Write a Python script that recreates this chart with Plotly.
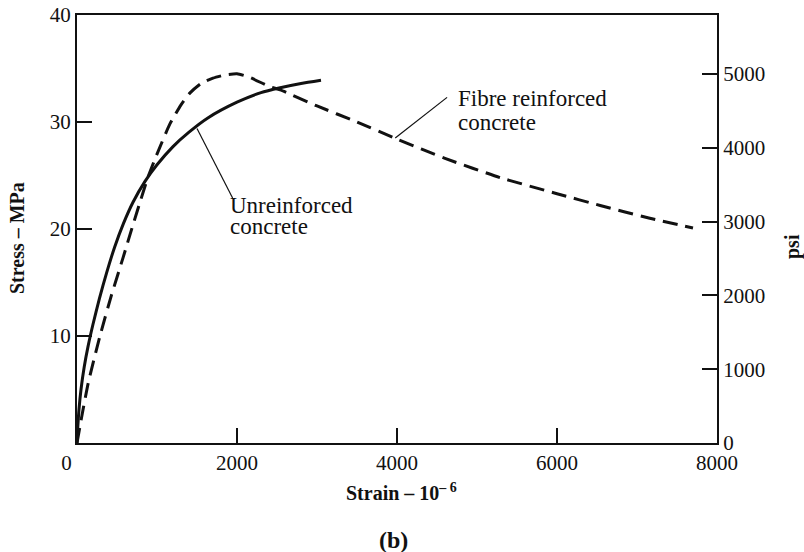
import plotly.graph_objects as go

# Unreinforced concrete (solid)
unreinf_strain = [0, 10, 25, 50, 90, 140, 200, 280, 370, 470, 580, 700, 850,
                  1000, 1200, 1400, 1640, 2000, 2300, 2540, 2800, 3050]
unreinf_stress = [0, 1.5, 3.15, 5.0, 7.1, 9.1, 11.1, 13.5, 15.9, 18.3, 20.5, 22.5, 24.45,
                  26.0, 27.7, 29.05, 30.4, 31.85, 32.75, 33.2, 33.6, 33.9]

# Fibre reinforced concrete (dashed)
fibre_strain = [0, 60, 140, 287, 430, 575, 700, 800, 890, 1000, 1160, 1300, 1410,
                1550, 1700, 1850, 2000, 2150, 2410, 2540, 3000, 3500, 4000, 4600,
                5290, 6000, 6540, 7160, 7700]
fibre_stress = [0, 2.5, 5.6, 10.0, 13.8, 17.3, 20.4, 22.8, 24.9, 27.0, 29.8, 31.6, 32.7,
                33.6, 34.1, 34.4, 34.5, 34.2, 33.3, 33.0, 31.5, 30.0, 28.4, 26.6,
                24.8, 23.3, 22.2, 21.0, 20.1]

x_ticks = [0, 2000, 4000, 6000, 8000]
x_ticktext = ["0&nbsp;&nbsp;&nbsp;&nbsp;", "2000", "4000", "6000", "8000"]
y_ticks = [10, 20, 30, 40]
psi_ticks = [0, 1000, 2000, 3000, 4000, 5000]
MPA_TO_PSI = 145.038

FONT = "Liberation Serif"
INK = "#111111"

L, R, T, B = 77, 87, 15, 109
W, H = 804, 552
PW, PH = W - L - R, H - T - B


def px(xp):
    return (xp - L) / PW


def py(yp):
    return (H - B - yp) / PH


fig = go.Figure()
fig.add_trace(go.Scatter(x=unreinf_strain, y=unreinf_stress, mode="lines",
                         line=dict(color=INK, width=3, shape="spline", smoothing=0.6),
                         showlegend=False, hoverinfo="skip"))
fig.add_trace(go.Scatter(x=fibre_strain, y=fibre_stress, mode="lines",
                         line=dict(color=INK, width=3, dash="15px,8px", shape="spline", smoothing=0.5),
                         showlegend=False, hoverinfo="skip"))
# invisible trace to activate the psi axis
fig.add_trace(go.Scatter(x=[0], y=[0], yaxis="y2", mode="markers",
                         marker=dict(opacity=0), showlegend=False, hoverinfo="skip"))

# leader lines
fig.add_shape(type="line", x0=1500, y0=29.4, x1=1945, y1=22.9,
              line=dict(color=INK, width=1.2), xref="x", yref="y")
fig.add_shape(type="line", x0=3978, y0=28.5, x1=4626, y1=32.3,
              line=dict(color=INK, width=1.2), xref="x", yref="y")

ann_font = dict(family=FONT, size=23, color=INK)
for txt, x, y in [("Unreinforced", 1883, 22.2), ("concrete", 1883, 20.2),
                  ("Fibre reinforced", 4738, 32.2), ("concrete", 4738, 30.0)]:
    fig.add_annotation(text=txt, x=x, y=y, xref="x", yref="y", showarrow=False,
                       xanchor="left", yanchor="middle", font=ann_font)

title_font = dict(family=FONT, size=20, color=INK)
fig.add_annotation(text="<b>Stress – MPa</b>", x=px(17), y=py(238), xref="paper", yref="paper",
                   textangle=-90, showarrow=False, font=title_font,
                   xanchor="center", yanchor="middle")
fig.add_annotation(text="<b>psi</b>", x=px(792), y=py(247), xref="paper", yref="paper",
                   textangle=-90, showarrow=False, font=title_font,
                   xanchor="center", yanchor="middle")
fig.add_annotation(text="<b>Strain – 10<sup>– 6</sup></b>", x=px(401), y=py(492),
                   xref="paper", yref="paper", showarrow=False, font=title_font,
                   xanchor="center", yanchor="middle")
fig.add_annotation(text="<b>(b)</b>", x=px(393), y=py(540), xref="paper", yref="paper",
                   showarrow=False, font=dict(family=FONT, size=24, color=INK),
                   xanchor="center", yanchor="middle")

axis_common = dict(ticks="inside", ticklen=15, tickwidth=1.5, tickcolor=INK,
                   showline=True, linecolor=INK, linewidth=2,
                   showgrid=False, zeroline=False, automargin=False)

fig.update_layout(
    width=W, height=H,
    margin=dict(l=L, r=R, t=T, b=B, autoexpand=False),
    paper_bgcolor="white", plot_bgcolor="white",
    font=dict(family=FONT, size=21, color=INK),
    xaxis=dict(range=[0, 8000], tickvals=x_ticks, ticktext=x_ticktext,
               mirror=True, **axis_common),
    yaxis=dict(range=[0, 40], tickvals=y_ticks, ticktext=[str(v) for v in y_ticks],
               **axis_common),
    yaxis2=dict(range=[0, 40 * MPA_TO_PSI], tickvals=psi_ticks,
                ticktext=[str(v) for v in psi_ticks],
                overlaying="y", side="right", **axis_common),
)

fig.write_html("out.html",
               config={"displayModeBar": False},
               post_script="document.body.style.margin='0px';"
                           "document.body.style.overflow='hidden';")
